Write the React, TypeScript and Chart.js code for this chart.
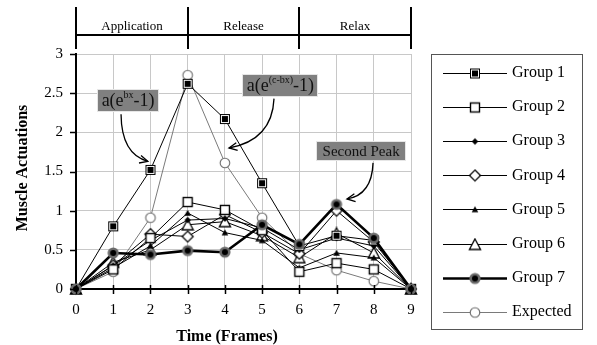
import React, { useEffect, useRef } from 'react';
import { Chart, registerables } from 'chart.js';

Chart.register(...registerables);

const FONT = '"Liberation Serif", "Times New Roman", Times, serif';

// ---------- data ----------
const frames = [0, 1, 2, 3, 4, 5, 6, 7, 8, 9];
const group1 = [0, 0.8, 1.52, 2.62, 2.17, 1.35, 0.55, 0.68, 0.62, 0];
const group2 = [0, 0.25, 0.65, 1.11, 1.01, 0.75, 0.22, 0.33, 0.25, 0];
const group3 = [0, 0.3, 0.62, 0.88, 0.9, 0.78, 0.5, 0.65, 0.55, 0];
const group4 = [0, 0.3, 0.7, 0.67, 0.95, 0.72, 0.45, 1.0, 0.6, 0];
const group5 = [0, 0.27, 0.55, 0.97, 0.72, 0.62, 0.27, 0.46, 0.4, 0];
const group6 = [0, 0.34, 0.5, 0.82, 0.86, 0.68, 0.4, 0.71, 0.46, 0];
const group7 = [0, 0.46, 0.44, 0.49, 0.47, 0.82, 0.57, 1.08, 0.65, 0];
const expected = [0, 0.22, 0.91, 2.73, 1.61, 0.91, 0.45, 0.24, 0.1, 0];

const seriesNames = ['Group 1', 'Group 2', 'Group 3', 'Group 4', 'Group 5', 'Group 6', 'Group 7', 'Expected'];
const seriesValues = [group1, group2, group3, group4, group5, group6, group7, expected];

const phaseNames = ['Application', 'Release', 'Relax'];
const phaseEdges = [0, 3, 6, 9];

const xTitle = 'Time (Frames)';
const yTitle = 'Muscle Actuations';

// ---------- styles ----------
type Kind = 'sqFilled' | 'sqOpen' | 'diaFilled' | 'diaOpen' | 'triFilled' | 'triOpen' | 'circG7' | 'circOpen';
const markerKinds: Kind[] = ['sqFilled', 'sqOpen', 'diaFilled', 'diaOpen', 'triFilled', 'triOpen', 'circG7', 'circOpen'];
const lineColors = ['#000', '#000', '#000', '#000', '#000', '#000', '#000', '#7a7a7a'];
const lineWidths = [1, 1, 1, 1, 1, 1, 2.6, 1];
const drawOrder = [0, 1, 2, 3, 4, 5, -1, 7];

function makeMarker(kind: Kind): HTMLCanvasElement {
  const c = document.createElement('canvas');
  c.width = 14;
  c.height = 14;
  const ctx = c.getContext('2d')!;
  const poly = (pts: number[][]) => {
    ctx.beginPath();
    pts.forEach((p, i) => (i ? ctx.lineTo(p[0], p[1]) : ctx.moveTo(p[0], p[1])));
    ctx.closePath();
  };
  switch (kind) {
    case 'sqFilled':
      ctx.fillStyle = '#000';
      ctx.fillRect(2, 2, 10, 10);
      ctx.fillStyle = '#fff';
      ctx.fillRect(3, 3, 8, 8);
      ctx.fillStyle = '#000';
      ctx.fillRect(4, 4, 6, 6);
      break;
    case 'sqOpen':
      ctx.fillStyle = '#fff';
      ctx.fillRect(2, 2, 10, 10);
      ctx.strokeStyle = '#000';
      ctx.lineWidth = 1.4;
      ctx.strokeRect(2.5, 2.5, 9, 9);
      break;
    case 'diaFilled':
      poly([[7, 3.8], [10.2, 7], [7, 10.2], [3.8, 7]]);
      ctx.fillStyle = '#000';
      ctx.fill();
      break;
    case 'diaOpen':
      poly([[7, 1.5], [12.5, 7], [7, 12.5], [1.5, 7]]);
      ctx.fillStyle = '#fff';
      ctx.fill();
      ctx.strokeStyle = '#000';
      ctx.lineWidth = 1.2;
      ctx.stroke();
      break;
    case 'triFilled':
      poly([[7, 3.8], [10.3, 9.8], [3.7, 9.8]]);
      ctx.fillStyle = '#000';
      ctx.fill();
      break;
    case 'triOpen':
      poly([[7, 1.5], [12.6, 12], [1.4, 12]]);
      ctx.fillStyle = '#fff';
      ctx.fill();
      ctx.strokeStyle = '#000';
      ctx.lineWidth = 1.3;
      ctx.stroke();
      break;
    case 'circG7':
      ctx.beginPath();
      ctx.arc(7, 7, 5.6, 0, Math.PI * 2);
      ctx.fillStyle = '#6a6a6a';
      ctx.fill();
      ctx.beginPath();
      ctx.arc(7, 7, 3, 0, Math.PI * 2);
      ctx.fillStyle = '#000';
      ctx.fill();
      break;
    case 'circOpen':
      ctx.beginPath();
      ctx.arc(7, 7, 4.8, 0, Math.PI * 2);
      ctx.fillStyle = '#fff';
      ctx.fill();
      ctx.strokeStyle = '#6a6a6a';
      ctx.lineWidth = 1.1;
      ctx.stroke();
      break;
  }
  return c;
}

// annotation placement in data space
type Note = { parts: { t: string; sup?: boolean }[]; size: number; cx: number; cy: number; arrow: number[] };
const notes: Note[] = [
  { parts: [{ t: 'a(e' }, { t: 'bx', sup: true }, { t: '-1)' }], size: 18, cx: 1.4, cy: 2.41, arrow: [1.21, 2.23, 1.22, 1.72, 1.93, 1.63] },
  { parts: [{ t: 'a(e' }, { t: '(c-bx)', sup: true }, { t: '-1)' }], size: 18, cx: 5.49, cy: 2.6, arrow: [5.32, 2.43, 5.27, 1.9, 4.11, 1.8] },
  { parts: [{ t: 'Second Peak' }], size: 15, cx: 7.66, cy: 1.76, arrow: [7.98, 1.61, 7.95, 1.2, 7.28, 1.15] },
];

export default function App() {
  const ref = useRef<HTMLCanvasElement>(null);

  useEffect(() => {
    if (!ref.current) return;
    const markers = markerKinds.map(makeMarker);

    const decor = {
      id: 'decor',
      afterDraw(chart: any) {
        const ctx: CanvasRenderingContext2D = chart.ctx;
        const xs = chart.scales.x;
        const ys = chart.scales.y;
        const area = chart.chartArea;
        ctx.save();

        // header band
        ctx.strokeStyle = '#000';
        ctx.lineWidth = 2;
        const ex = phaseEdges.map((e) => Math.round(xs.getPixelForValue(e)));
        ex.forEach((px) => {
          ctx.beginPath();
          ctx.moveTo(px, 7);
          ctx.lineTo(px, 49);
          ctx.stroke();
        });
        ctx.beginPath();
        ctx.moveTo(ex[0], 35);
        ctx.lineTo(ex[ex.length - 1], 35);
        ctx.stroke();
        ctx.fillStyle = '#000';
        ctx.font = `13px ${FONT}`;
        ctx.textAlign = 'center';
        ctx.textBaseline = 'alphabetic';
        phaseNames.forEach((n, i) => {
          ctx.fillText(n, (ex[i] + ex[i + 1]) / 2, 30);
        });

        // axis tick marks
        ctx.lineWidth = 1.5;
        frames.forEach((f) => {
          const px = Math.round(xs.getPixelForValue(f)) + 0.5;
          ctx.beginPath();
          ctx.moveTo(px, area.bottom - 4);
          ctx.lineTo(px, area.bottom + 5);
          ctx.stroke();
        });
        ys.ticks.forEach((t: any) => {
          const py = Math.round(ys.getPixelForValue(t.value)) + 0.5;
          ctx.beginPath();
          ctx.moveTo(area.left - 6, py);
          ctx.lineTo(area.left + 1, py);
          ctx.stroke();
        });

        // titles
        ctx.font = `bold 16px ${FONT}`;
        ctx.textAlign = 'center';
        ctx.textBaseline = 'alphabetic';
        ctx.fillText(xTitle, 227, 341);
        ctx.save();
        ctx.translate(23, 168);
        ctx.rotate(-Math.PI / 2);
        ctx.textBaseline = 'middle';
        ctx.fillText(yTitle, 0, 0);
        ctx.restore();

        // annotations
        notes.forEach((n) => {
          const big = `${n.size}px ${FONT}`;
          const small = `10px ${FONT}`;
          let w = 0;
          n.parts.forEach((p) => {
            ctx.font = p.sup ? small : big;
            w += ctx.measureText(p.t).width;
          });
          const padX = n.size > 16 ? 4.5 : 6.5;
          const h = n.size > 16 ? 23 : 20;
          const cx = xs.getPixelForValue(n.cx);
          const cy = ys.getPixelForValue(n.cy);
          const bx = Math.round(cx - w / 2 - padX);
          const by = Math.round(cy - h / 2);
          ctx.fillStyle = '#808080';
          ctx.fillRect(bx, by, Math.round(w + padX * 2), h);
          ctx.strokeStyle = '#e6e6e6';
          ctx.lineWidth = 1;
          ctx.strokeRect(bx + 0.5, by + 0.5, Math.round(w + padX * 2) - 1, h - 1);
          ctx.fillStyle = '#111';
          ctx.textAlign = 'left';
          ctx.textBaseline = 'alphabetic';
          let tx = cx - w / 2;
          const base = cy + n.size * 0.33;
          n.parts.forEach((p) => {
            ctx.font = p.sup ? small : big;
            ctx.fillText(p.t, tx, p.sup ? base - 8 : base);
            tx += ctx.measureText(p.t).width;
          });

          // arrow
          const [x0, y0, x1, y1, x2, y2] = n.arrow;
          const p0 = [xs.getPixelForValue(x0), ys.getPixelForValue(y0)];
          const p1 = [xs.getPixelForValue(x1), ys.getPixelForValue(y1)];
          const p2 = [xs.getPixelForValue(x2), ys.getPixelForValue(y2)];
          ctx.strokeStyle = '#000';
          ctx.lineWidth = 1.3;
          ctx.beginPath();
          ctx.moveTo(p0[0], p0[1]);
          ctx.quadraticCurveTo(p1[0], p1[1], p2[0], p2[1]);
          ctx.stroke();
          const ang = Math.atan2(p2[1] - p1[1], p2[0] - p1[0]);
          const L = 9;
          ctx.beginPath();
          ctx.moveTo(p2[0] - L * Math.cos(ang - 0.45), p2[1] - L * Math.sin(ang - 0.45));
          ctx.lineTo(p2[0], p2[1]);
          ctx.lineTo(p2[0] - L * Math.cos(ang + 0.45), p2[1] - L * Math.sin(ang + 0.45));
          ctx.stroke();
        });

        // legend
        ctx.strokeStyle = '#555';
        ctx.lineWidth = 1;
        ctx.strokeRect(431.5, 54.5, 151, 275);
        ctx.font = `16px ${FONT}`;
        ctx.textAlign = 'left';
        ctx.textBaseline = 'middle';
        seriesNames.forEach((name, i) => {
          const y = 73 + i * 34.1;
          ctx.strokeStyle = lineColors[i];
          ctx.lineWidth = lineWidths[i];
          ctx.beginPath();
          ctx.moveTo(443, Math.round(y) + 0.5);
          ctx.lineTo(507, Math.round(y) + 0.5);
          ctx.stroke();
          const m = markers[i];
          ctx.drawImage(m, 475 - m.width / 2, Math.round(y) + 0.5 - m.height / 2);
          ctx.fillStyle = '#000';
          ctx.fillText(name, 512, y);
        });

        ctx.restore();
      },
    };

    const datasets = seriesNames.map((name, i) => ({
      label: name,
      data: frames.map((f, j) => ({ x: f, y: seriesValues[i][j] })),
      borderColor: lineColors[i],
      borderWidth: lineWidths[i],
      pointStyle: markers[i] as any,
      pointRadius: 5,
      tension: 0,
      fill: false,
      clip: false,
      order: drawOrder[i],
    }));

    const chart = new Chart(ref.current, {
      type: 'line',
      data: { datasets },
      plugins: [decor],
      options: {
        responsive: false,
        animation: false,
        devicePixelRatio: 1,
        layout: { padding: { left: 0, top: 54, right: 186, bottom: 0 } },
        plugins: { legend: { display: false }, tooltip: { enabled: false } },
        scales: {
          x: {
            type: 'linear',
            min: 0,
            max: 9,
            ticks: { stepSize: 1, color: '#000', font: { family: FONT, size: 15 }, padding: 12 },
            grid: { color: '#c8c8c8', drawTicks: false, lineWidth: 1 },
            border: { color: '#000', width: 2 },
            afterFit: (s: any) => {
              s.height = 56;
            },
          },
          y: {
            min: 0,
            max: 3,
            ticks: {
              stepSize: 0.5,
              color: '#000',
              font: { family: FONT, size: 15 },
              padding: 13,
              callback: (v: any) => String(Math.round(Number(v) * 100) / 100),
            },
            grid: { color: '#c8c8c8', drawTicks: false, lineWidth: 1 },
            border: { color: '#000', width: 2 },
            afterFit: (s: any) => {
              s.width = 76;
            },
          },
        },
      },
    } as any);

    return () => chart.destroy();
  }, []);

  return (
    <div style={{ position: 'fixed', left: 0, top: 0, width: 597, height: 345, background: '#fff' }}>
      <canvas ref={ref} width={597} height={345} style={{ width: 597, height: 345, display: 'block' }} />
    </div>
  );
}
